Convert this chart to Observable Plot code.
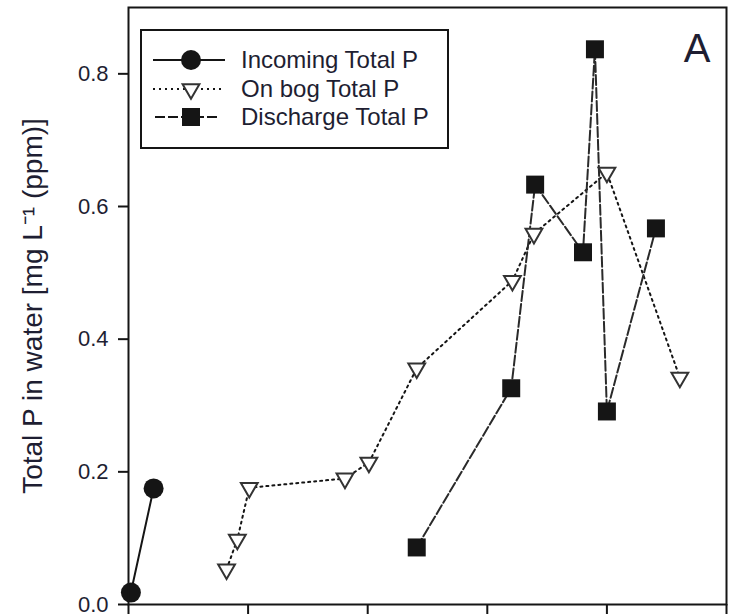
<!DOCTYPE html>
<html><head><meta charset="utf-8">
<script src="https://cdn.jsdelivr.net/npm/d3@7"></script>
<script src="https://cdn.jsdelivr.net/npm/@observablehq/plot@0.6"></script>
<style>
body{margin:0;background:#fff;}
#chart{width:732px;height:614px;overflow:hidden;}
</style>
</head><body><div id="chart"></div>
<script>
// ---- data ----
const seriesNames = ["Incoming Total P", "On bog Total P", "Discharge Total P"];
const incomingX = [0.02, 0.21];
const incomingY = [0.018, 0.175];
const bogX = [0.82, 0.91, 1.01, 1.81, 2.01, 2.41, 3.21, 3.39, 4.00, 4.61];
const bogY = [0.053, 0.098, 0.176, 0.190, 0.214, 0.356, 0.488, 0.559, 0.651, 0.342];
const dischargeX = [2.41, 3.20, 3.40, 3.80, 3.90, 4.00, 4.41];
const dischargeY = [0.086, 0.326, 0.633, 0.531, 0.837, 0.291, 0.567];
const yTicks = [0, 0.2, 0.4, 0.6, 0.8];
const xTicks = [0, 1, 2, 3, 4, 5];
const yLabel = "Total P in water [mg L\u207B\u00B9 (ppm)]";
const panelLabel = "A";

const toRows = (xs, ys, s) => xs.map((x, i) => ({x, y: ys[i], series: s}));
const incoming = toRows(incomingX, incomingY, seriesNames[0]);
const onBog = toRows(bogX, bogY, seriesNames[1]);
const discharge = toRows(dischargeX, dischargeY, seriesNames[2]);

const ink = "#151515";
const textColor = "#1e1e32";
const font = "'Liberation Sans', Arial, sans-serif";

const triangleDown = {
  draw(ctx, size) {
    const r = Math.sqrt(size / Math.PI);
    const side = 1.75 * r;
    const h = side * Math.sqrt(3) / 2;
    ctx.moveTo(-side / 2, -h / 3);
    ctx.lineTo(side / 2, -h / 3);
    ctx.lineTo(0, 2 * h / 3);
    ctx.closePath();
  }
};

const plot = Plot.plot({
  width: 732, height: 614,
  marginLeft: 128, marginRight: 6, marginTop: 7, marginBottom: 10,
  style: {fontFamily: font, background: "white", color: textColor},
  x: {domain: [0, 5]},
  y: {domain: [0, 0.9]},
  marks: [
    Plot.axisY(yTicks, {tickSize: 10, tickPadding: 10, tickFormat: d => d.toFixed(1), fontSize: 22, strokeWidth: 2, stroke: ink, fill: textColor, label: null}),
    Plot.axisX(xTicks, {tickSize: 10, tickFormat: () => "", strokeWidth: 2, stroke: ink, label: null}),
    Plot.line(incoming, {x: "x", y: "y", stroke: ink, strokeWidth: 2}),
    Plot.line(onBog, {x: "x", y: "y", stroke: ink, strokeWidth: 2, strokeDasharray: "2,4"}),
    Plot.line(discharge, {x: "x", y: "y", stroke: "#2a2a2a", strokeWidth: 2, strokeDasharray: "10,3"}),
    Plot.dot(incoming, {x: "x", y: "y", r: 10, symbol: "circle", fill: ink}),
    Plot.dot(onBog, {x: "x", y: "y", r: 9.6, symbol: triangleDown, fill: "white", stroke: "#333", strokeWidth: 2}),
    Plot.dot(discharge, {x: "x", y: "y", r: 10.15, symbol: "square", fill: ink}),
    Plot.frame({stroke: ink, strokeWidth: 2}),
    Plot.text([yLabel], {frameAnchor: "left", dx: -95, rotate: -90, textAnchor: "middle", fontSize: 28, fill: textColor}),
    Plot.text([panelLabel], {frameAnchor: "top-right", dx: -16, dy: 26, fontSize: 40, fill: textColor})
  ]
});

// ---- legend ----
const svg = d3.select(plot);
const lg = svg.append("g");
lg.append("rect").attr("x", 141).attr("y", 30).attr("width", 307).attr("height", 118)
  .attr("fill", "white").attr("stroke", ink).attr("stroke-width", 2);
const rowsY = [60, 89, 117];
const dashes = [null, "2,4", "10,3"];
const segs = [[153, 225], [153, 225], [155, 218]];
seriesNames.forEach((name, i) => {
  const y = rowsY[i];
  const line = lg.append("line").attr("x1", segs[i][0]).attr("x2", segs[i][1])
    .attr("y1", y).attr("y2", y).attr("stroke", ink).attr("stroke-width", 2);
  if (dashes[i]) line.attr("stroke-dasharray", dashes[i]);
  const cx = 191;
  if (i === 0) {
    lg.append("circle").attr("cx", cx).attr("cy", y).attr("r", 10).attr("fill", ink);
  } else if (i === 1) {
    const p = d3.path();
    triangleDown.draw(p, Math.PI * 9.6 * 9.6);
    lg.append("path").attr("d", p.toString()).attr("transform", `translate(${cx},${y})`)
      .attr("fill", "white").attr("stroke", "#333").attr("stroke-width", 2);
  } else {
    lg.append("rect").attr("x", cx - 9).attr("y", y - 9).attr("width", 18).attr("height", 18).attr("fill", ink);
  }
  lg.append("text").attr("x", 241).attr("y", y).attr("dy", "0.35em")
    .attr("text-anchor", "start")
    .attr("font-size", 24).attr("font-family", font).attr("fill", textColor).text(name);
});

document.getElementById("chart").appendChild(plot);
</script>
</body></html>
